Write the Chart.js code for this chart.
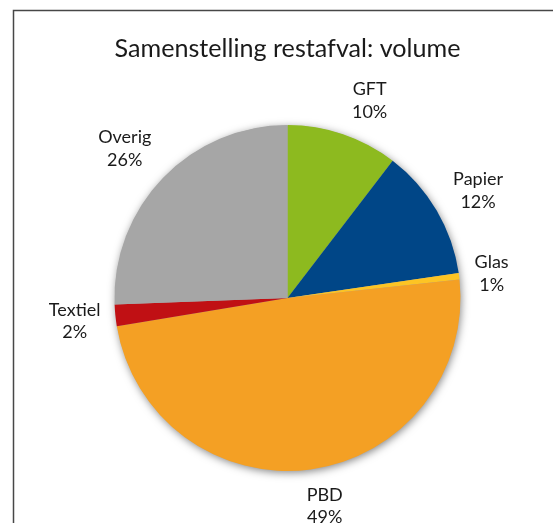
<!DOCTYPE html>
<html>
<head>
<meta charset="utf-8">
<script src="https://cdn.jsdelivr.net/npm/chart.js@4.4.1/dist/chart.umd.min.js"></script>
<style>
  html, body { margin: 0; padding: 0; background: #fff; }
  #wrap { width: 553px; height: 523px; position: relative; }
</style>
</head>
<body>
<div id="wrap"><canvas id="c" width="553" height="523"></canvas></div>
<script>
const chartTitle = 'Samenstelling restafval: volume';
const categories = ['GFT', 'Papier', 'Glas', 'PBD', 'Textiel', 'Overig'];
const volumeShare = [10.4, 12.3, 0.6, 49.1, 2.0, 25.6];
const sliceColors = ['#8DBA1F', '#004687', '#FDC424', '#F4A024', '#C01014', '#A6A6A6'];
// small angular nudges (degrees) for the outside labels, styling only
const labelAngleNudge = [3.9, 1.0, 0.4, -2.4, -0.4, -1.4];

const LABEL_FONT = '18px Lato';
const LABEL_LINE = 22.5;
const TEXT_COLOR = '#1a1a1a';

const frame = {
  id: 'frame',
  beforeDraw(chart) {
    const ctx = chart.ctx;
    ctx.save();
    ctx.fillStyle = '#ffffff';
    ctx.fillRect(0, 0, chart.width, chart.height);
    ctx.strokeStyle = '#474747';
    ctx.lineWidth = 1.5;
    ctx.beginPath();
    ctx.moveTo(13.5, chart.height);
    ctx.lineTo(13.5, 10.5);
    ctx.lineTo(chart.width, 10.5);
    ctx.stroke();
    ctx.restore();
  }
};

const pieShadow = {
  id: 'pieShadow',
  beforeDatasetsDraw(chart) {
    const arc = chart.getDatasetMeta(0).data[0];
    if (!arc) return;
    const p = arc.getProps(['x', 'y', 'outerRadius'], true);
    const ctx = chart.ctx;
    ctx.save();
    ctx.shadowColor = 'rgba(0,0,0,0.5)';
    ctx.shadowBlur = 8;
    ctx.shadowOffsetX = 1;
    ctx.shadowOffsetY = 2;
    ctx.fillStyle = '#a6a6a6';
    ctx.beginPath();
    ctx.arc(p.x, p.y, p.outerRadius - 0.5, 0, Math.PI * 2);
    ctx.fill();
    ctx.restore();
  }
};

const outsideLabels = {
  id: 'outsideLabels',
  afterDatasetsDraw(chart) {
    const ctx = chart.ctx;
    const meta = chart.getDatasetMeta(0);
    const values = chart.data.datasets[0].data;
    const total = values.reduce((a, b) => a + b, 0);
    ctx.save();
    ctx.font = LABEL_FONT;
    ctx.fillStyle = TEXT_COLOR;
    ctx.textAlign = 'center';
    ctx.textBaseline = 'middle';
    meta.data.forEach((arc, i) => {
      const p = arc.getProps(['x', 'y', 'startAngle', 'endAngle', 'outerRadius'], true);
      const mid = (p.startAngle + p.endAngle) / 2 + labelAngleNudge[i] * Math.PI / 180;
      const lines = [chart.data.labels[i], Math.round(values[i] / total * 100) + '%'];
      const w = Math.max(...lines.map(t => ctx.measureText(t).width));
      const h = LABEL_LINE * lines.length;
      const ux = Math.cos(mid), uy = Math.sin(mid);
      const r0 = p.outerRadius + 13;
      const support = Math.abs(ux) * w / 2 + Math.abs(uy) * h / 2;
      const cx = p.x + ux * (r0 + support);
      const cy = p.y + uy * (r0 + support);
      lines.forEach((t, k) => {
        ctx.fillText(t, cx, cy + (k - (lines.length - 1) / 2) * LABEL_LINE);
      });
    });
    ctx.restore();
  }
};

new Chart(document.getElementById('c'), {
  type: 'pie',
  data: {
    labels: categories,
    datasets: [{
      data: volumeShare,
      backgroundColor: sliceColors,
      borderWidth: 0,
      hoverOffset: 0
    }]
  },
  options: {
    responsive: false,
    animation: false,
    events: [],
    layout: { padding: { left: 114.5, right: 92.5, top: 0, bottom: 52 } },
    plugins: {
      legend: { display: false },
      tooltip: { enabled: false },
      title: {
        display: true,
        text: chartTitle,
        color: TEXT_COLOR,
        font: { family: 'Lato', size: 25.5, weight: 'normal', lineHeight: 1.2 },
        padding: { top: 33, bottom: 61.4 }
      }
    }
  },
  plugins: [frame, pieShadow, outsideLabels]
});
</script>
</body>
</html>
